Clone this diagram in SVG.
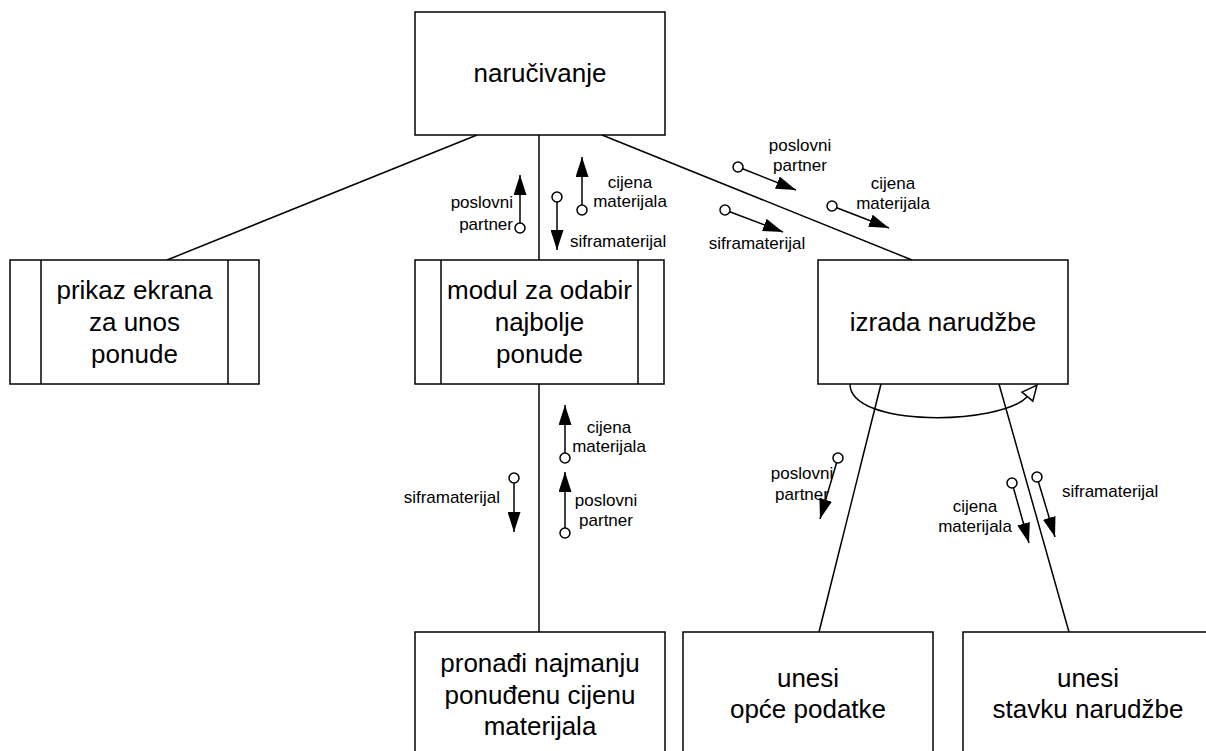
<svg xmlns="http://www.w3.org/2000/svg" width="1206" height="751" viewBox="0 0 1206 751">
<style>
.box{fill:#fff;stroke:#000;stroke-width:1.5}
.ln{fill:none;stroke:#000;stroke-width:1.5}
.big{font-family:"Liberation Sans",Arial,sans-serif;font-size:26px;fill:#000;text-anchor:middle}
.sm{font-family:"Liberation Sans",Arial,sans-serif;font-size:17px;fill:#000}
.c{text-anchor:middle}
.e{text-anchor:end}
.dot{fill:#fff;stroke:#000;stroke-width:1.5}
.cl{stroke:#000;stroke-width:1.5;marker-end:url(#ah)}
</style>
<defs>
<marker id="ah" markerUnits="userSpaceOnUse" markerWidth="20" markerHeight="13" refX="20" refY="6.5" orient="auto">
<path d="M0,0 L20,6.5 L0,13 z" fill="#000"/>
</marker>
</defs>
<rect width="1206" height="751" fill="#fff"/>
<g id="connectors">
<line class="ln" x1="477" y1="135" x2="167" y2="260"/>
<line class="ln" x1="539" y1="135" x2="539" y2="260"/>
<line class="ln" x1="602" y1="135" x2="912" y2="260"/>
<line class="ln" x1="539" y1="384" x2="539" y2="632"/>
<line class="ln" x1="881" y1="384" x2="819" y2="632"/>
<line class="ln" x1="999" y1="384" x2="1069" y2="632"/>
<path class="ln" d="M850,384 C850,428 1000,425 1027,397"/>
<polygon points="1037,385 1032.8,401.1 1022,392.1" fill="#fff" stroke="#000" stroke-width="1.5"/>
</g>
<g id="couples">
<line class="cl" x1="520" y1="223" x2="520" y2="175"/><circle class="dot" cx="520" cy="228" r="5"/>
<text class="sm e" x="513" y="208">poslovni</text><text class="sm e" x="513" y="230">partner</text>
<line class="cl" x1="557" y1="202" x2="557" y2="250"/><circle class="dot" cx="557" cy="197" r="5"/>
<text class="sm" x="570" y="247">siframaterijal</text>
<line class="cl" x1="582" y1="205" x2="582" y2="157"/><circle class="dot" cx="582" cy="210" r="5"/>
<text class="sm c" x="630" y="188">cijena</text><text class="sm c" x="630" y="207">materijala</text>
<line class="cl" x1="742.6" y1="168.8" x2="796" y2="190"/><circle class="dot" cx="738" cy="167" r="5"/>
<text class="sm c" x="800" y="151">poslovni</text><text class="sm c" x="800" y="171">partner</text>
<line class="cl" x1="836.7" y1="207.8" x2="889" y2="228"/><circle class="dot" cx="832" cy="206" r="5"/>
<text class="sm c" x="893" y="189">cijena</text><text class="sm c" x="893" y="209">materijala</text>
<line class="cl" x1="729.7" y1="211.8" x2="783" y2="232"/><circle class="dot" cx="725" cy="210" r="5"/>
<text class="sm c" x="757" y="249">siframaterijal</text>
<line class="cl" x1="565" y1="453" x2="565" y2="405"/><circle class="dot" cx="565" cy="458" r="5"/>
<text class="sm c" x="609" y="433">cijena</text><text class="sm c" x="609" y="452">materijala</text>
<line class="cl" x1="565" y1="528" x2="565" y2="472"/><circle class="dot" cx="565" cy="533" r="5"/>
<text class="sm c" x="606" y="506">poslovni</text><text class="sm c" x="606" y="526">partner</text>
<line class="cl" x1="514" y1="483" x2="514" y2="532"/><circle class="dot" cx="514" cy="478" r="5"/>
<text class="sm e" x="500" y="503">siframaterijal</text>
<line class="cl" x1="836.6" y1="462.8" x2="820" y2="519"/><circle class="dot" cx="838" cy="458" r="5"/>
<text class="sm c" x="802" y="479">poslovni</text><text class="sm c" x="802" y="500">partner</text>
<line class="cl" x1="1013.4" y1="487.8" x2="1029" y2="543"/><circle class="dot" cx="1012" cy="483" r="5"/>
<text class="sm c" x="975" y="512">cijena</text><text class="sm c" x="975" y="532">materijala</text>
<line class="cl" x1="1038.4" y1="481.8" x2="1055" y2="537"/><circle class="dot" cx="1037" cy="477" r="5"/>
<text class="sm" x="1062" y="497">siframaterijal</text>
</g>
<g id="n-narucivanje"><rect class="box" x="415" y="12" width="250" height="123"/><text class="big" x="540" y="82">naručivanje</text></g>
<g id="n-prikaz"><rect class="box" x="10" y="260" width="249" height="124"/><line class="ln" x1="41" y1="260" x2="41" y2="384"/><line class="ln" x1="228" y1="260" x2="228" y2="384"/>
<text class="big" x="134.5" y="299">prikaz ekrana</text><text class="big" x="134.5" y="331">za unos</text><text class="big" x="134.5" y="363">ponude</text></g>
<g id="n-modul"><rect class="box" x="415" y="260" width="249" height="124"/><line class="ln" x1="441" y1="260" x2="441" y2="384"/><line class="ln" x1="638" y1="260" x2="638" y2="384"/>
<text class="big" x="539.5" y="299">modul za odabir</text><text class="big" x="539.5" y="331">najbolje</text><text class="big" x="539.5" y="363">ponude</text></g>
<g id="n-izrada"><rect class="box" x="818" y="260" width="250" height="124"/><text class="big" x="943" y="331">izrada narudžbe</text></g>
<g id="n-pronadi"><rect class="box" x="415" y="632" width="250" height="140"/>
<text class="big" x="540" y="672">pronađi najmanju</text><text class="big" x="540" y="704">ponuđenu cijenu</text><text class="big" x="540" y="735">materijala</text></g>
<g id="n-opce"><rect class="box" x="683" y="632" width="250" height="140"/>
<text class="big" x="808" y="687">unesi</text><text class="big" x="808" y="718">opće podatke</text></g>
<g id="n-stavka"><rect class="box" x="963" y="632" width="250" height="140"/>
<text class="big" x="1088" y="687">unesi</text><text class="big" x="1088" y="718">stavku narudžbe</text></g>
</svg>
